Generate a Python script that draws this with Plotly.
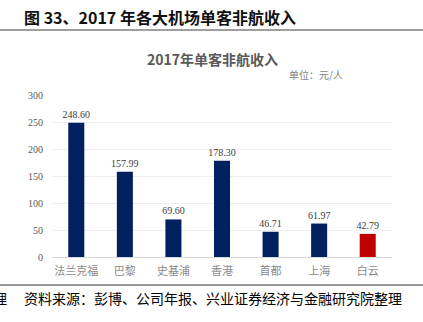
import plotly.graph_objects as go

categories = ["法兰克福", "巴黎", "史基浦", "香港", "首都", "上海", "白云"]
values = [248.60, 157.99, 69.60, 178.30, 46.71, 61.97, 42.79]
bar_colors = ["#002060"] * 6 + ["#C00000"]
y_ticks = [0, 50, 100, 150, 200, 250, 300]

W, H = 423, 322
L, R, T, B = 52, 392, 95, 257

def px(x):
    return (x - L) / (R - L)

def py(y):
    return (B - y) / (B - T)

serif = "Liberation Serif, DejaVu Serif, Noto Sans CJK SC"
cjk = "Noto Sans CJK SC, Liberation Serif"

fig = go.Figure(go.Bar(
    x=categories,
    y=values,
    marker=dict(color=bar_colors, line=dict(width=0)),
    width=0.33,
    text=[f"{v:.2f}" for v in values],
    textposition="outside",
    constraintext="none",
    textfont=dict(family=serif, size=10, color="#404040"),
    cliponaxis=False,
))

fig.update_layout(
    width=W, height=H,
    margin=dict(l=L, r=W - R, t=T, b=H - B),
    paper_bgcolor="white",
    plot_bgcolor="white",
    showlegend=False,
    uniformtext=dict(minsize=10, mode="show"),
    xaxis=dict(
        showgrid=False, zeroline=False, showline=False,
        tickfont=dict(family=cjk, size=11, color="#8c8c8c"),
        ticks="", ticklabelstandoff=6,
    ),
    yaxis=dict(
        range=[0, 300],
        tickvals=y_ticks,
        showgrid=True, gridcolor="#eeeeee", gridwidth=1,
        zeroline=True, zerolinecolor="#d9d9d9", zerolinewidth=1,
        showline=False,
        tickfont=dict(family=serif, size=10, color="#595959"),
        ticks="", ticklabelstandoff=8,
    ),
)

annots = [
    dict(text="<b>图 33、2017 年各大机场单客非航收入</b>", x=px(22), y=py(17),
         xanchor="left", yanchor="middle", font=dict(family=cjk, size=16, color="#111111")),
    dict(text="<b>2017年单客非航收入</b>", x=px(212), y=py(59),
         xanchor="center", yanchor="middle", font=dict(family=cjk, size=14, color="#595959")),
    dict(text="单位：元/人", x=px(287), y=py(74),
         xanchor="left", yanchor="middle", font=dict(family=cjk, size=10, color="#7f7f7f")),
    dict(text="资料来源：彭博、公司年报、兴业证券经济与金融研究院整理", x=px(22), y=py(298),
         xanchor="left", yanchor="middle", font=dict(family=cjk, size=14, color="#000000")),
    dict(text="理", x=px(9), y=py(298),
         xanchor="right", yanchor="middle", font=dict(family=cjk, size=14, color="#000000")),
]
for a in annots:
    a.update(xref="paper", yref="paper", showarrow=False)
fig.update_layout(annotations=annots)

fig.update_layout(shapes=[
    dict(type="line", xref="paper", yref="paper", x0=px(0), x1=px(W), y0=py(30), y1=py(30),
         line=dict(color="#7f7f7f", width=1.5)),
    dict(type="line", xref="paper", yref="paper", x0=px(0), x1=px(W), y0=py(285), y1=py(285),
         line=dict(color="#333333", width=1)),
])

fig.write_html("out.html")
